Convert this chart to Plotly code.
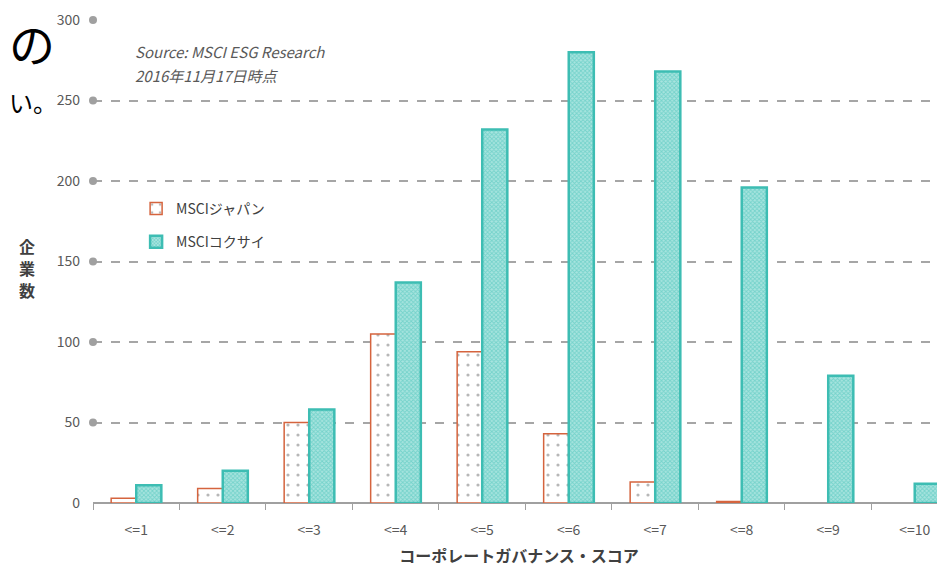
import plotly.graph_objects as go

categories = ["<=1", "<=2", "<=3", "<=4", "<=5", "<=6", "<=7", "<=8", "<=9", "<=10"]
japan = [3, 9, 50, 105, 94, 43, 13, 1, None, None]
kokusai = [11, 20, 58, 137, 232, 280, 268, 196, 79, 12]
y_ticks = [0, 50, 100, 150, 200, 250, 300]
grid_ticks = [50, 100, 150, 200, 250, 300]
y_title_chars = ["企", "業", "数"]

FONT = "Noto Sans CJK JP"

fig = go.Figure()
fig.add_trace(go.Bar(
    x=categories, y=japan, name="MSCIジャパン", legendgroup="a",
    marker=dict(color="white", line=dict(color="#d5643e", width=1.5),
                pattern=dict(shape=".", fgcolor="#6f6f6f", size=10, solidity=0.08)),
))
fig.add_trace(go.Bar(
    x=categories, y=kokusai, name="MSCIコクサイ", legendgroup="b",
    marker=dict(color="#a8e4df", line=dict(color="#3dbdb3", width=2.5),
                pattern=dict(shape="x", fgcolor="#3fc0b6", size=3, solidity=0.5)),
))
# grid dots at left end
fig.add_trace(go.Scatter(
    x=[0] * len(grid_ticks), y=grid_ticks, mode="markers", xaxis="x2",
    marker=dict(color="#a0a0a0", size=8), showlegend=False, hoverinfo="skip",
    cliponaxis=False,
))

fig.update_layout(
    width=937, height=559,
    margin=dict(l=85, r=0, t=12, b=64),
    plot_bgcolor="white", paper_bgcolor="white",
    barmode="group", bargap=0.42, bargroupgap=0,
    font=dict(family=FONT, color="#595959", size=13),
    xaxis=dict(
        type="category", range=[-0.5, 9.35], tickson="boundaries",
        ticks="outside", ticklen=6, tickcolor="#a0a0a0", tickwidth=1,
        showgrid=False, showline=False, zeroline=False, automargin=False,
        ticklabelstandoff=17,
        tickfont=dict(size=14, color="#595959"),
        title=dict(text="<b>コーポレートガバナンス・スコア</b>",
                   font=dict(size=16, color="#404040"), standoff=12),
    ),
    xaxis2=dict(overlaying="x", range=[0, 1], visible=False, showgrid=False,
                zeroline=False),
    yaxis=dict(
        range=[0, 300], tickvals=y_ticks, showgrid=True, automargin=False,
        gridcolor="#a6a6a6", griddash="dash", gridwidth=1.5,
        zeroline=True, zerolinecolor="#a0a0a0", zerolinewidth=1.5,
        ticks="", ticklabelstandoff=12,
        tickfont=dict(size=14, color="#595959"),
    ),
    legend=dict(x=0.0506, y=0.642, xanchor="left", yanchor="top",
                font=dict(size=14, color="#404040"), tracegroupgap=12,
                itemwidth=30, bgcolor="rgba(0,0,0,0)"),
    showlegend=True,
)

fig.add_annotation(xref="paper", yref="paper", x=0.047, y=0.934, xanchor="left",
                   yanchor="middle", showarrow=False,
                   text="<i>Source: MSCI ESG Research</i>",
                   font=dict(size=15, color="#595959"))
fig.add_annotation(xref="paper", yref="paper", x=0.047, y=0.886, xanchor="left",
                   yanchor="middle", showarrow=False,
                   text="<i>2016年11月17日時点</i>",
                   font=dict(size=15, color="#595959"))
for i, ch in enumerate(y_title_chars):
    fig.add_annotation(xref="paper", yref="paper", x=-0.077, y=0.533 - i * 0.0455,
                       xanchor="center", yanchor="middle", showarrow=False,
                       text=f"<b>{ch}</b>", font=dict(size=16, color="#404040"))
fig.add_annotation(xref="paper", yref="paper", x=-0.0994, y=1.025, xanchor="left",
                   yanchor="top", showarrow=False, text="の", borderpad=0,
                   font=dict(size=46, color="black"))
fig.add_annotation(xref="paper", yref="paper", x=-0.0994, y=0.87, xanchor="left",
                   yanchor="top", showarrow=False, text="い。", borderpad=0,
                   font=dict(size=24, color="black"))

fig.write_html("out.html")
